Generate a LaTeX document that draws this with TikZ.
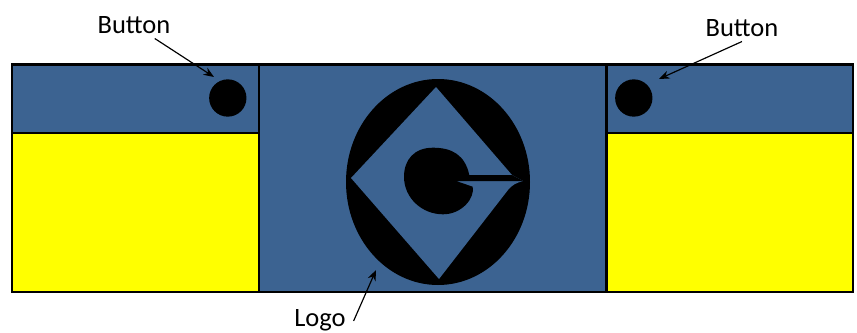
\documentclass[tikz,border=0pt]{standalone}
\usepackage{fontspec}
\usetikzlibrary{arrows.meta}
\setmainfont{Carlito}
\definecolor{panelBlue}{RGB}{60,99,145}
\definecolor{slotYellow}{RGB}{255,255,0}
\tikzset{
  panel/.style={draw=black, line width=2.5pt, fill=panelBlue},
  slot/.style={draw=black, line width=2pt, fill=slotYellow},
  button/.style={circle, fill=black, inner sep=0pt, minimum size=1.12cm},
  callout/.style={font=\fontsize{22.6pt}{24pt}\selectfont, inner sep=4pt, text=black},
  pointer/.style={-{Stealth[length=9pt,width=7pt]}, line width=1pt}
}
\begin{document}
\begin{tikzpicture}[x=0.03cm, y=-0.03cm]

\def\leftX{12}
\def\midX{259}
\def\rightX{606.5}
\def\endX{853}
\def\topY{64.5}
\def\headY{133}
\def\botY{292}

\useasboundingbox (0,0) rectangle (857,333);

\draw[slot] (\leftX,\headY) rectangle (\midX,\botY);
\draw[slot] (\rightX,\headY) rectangle (\endX,\botY);
\draw[panel] (\leftX,\topY) rectangle (\midX,\headY);
\draw[panel] (\rightX,\topY) rectangle (\endX,\headY);
\draw[panel] (\midX,\topY) rectangle (\rightX,\botY);

% logo
\fill[black] (438,182) ellipse (92 and 103);
\fill[panelBlue] (436,87) -- (512,175) -- (523,181)
  .. controls (516,183) and (512,185) .. (508,190)
  -- (439,279) -- (351,178) -- cycle;
\fill[black] (512,175) -- (523,181) -- (456,181)
  -- (472.7,186.7) .. controls (475,198) and (462,214.3) .. (443,214.3)
  .. controls (422,214.3) and (404,198) .. (404,176.7)
  .. controls (404,160) and (414,147.7) .. (433,147.7)
  .. controls (452,147.7) and (465,155) .. (469.3,175)
  -- cycle;

\node[button] (buttonL) at (227.8,98) {};
\node[button] (buttonR) at (633.8,98) {};

\node[callout] (labelL) at (134,25) {Button};
\node[callout] (labelR) at (742,28) {Button};
\node[callout] (labelLogo) at (320,320) {Logo};

\coordinate (tipL) at (214,77);
\coordinate (tipR) at (659,79);
\coordinate (tipLogo) at (376,270);

\draw[pointer] (labelL) -- (tipL);
\draw[pointer] (labelR.south) -- (tipR);
\draw[pointer] (labelLogo.east) ++(3,1) -- (tipLogo);

\end{tikzpicture}
\end{document}
